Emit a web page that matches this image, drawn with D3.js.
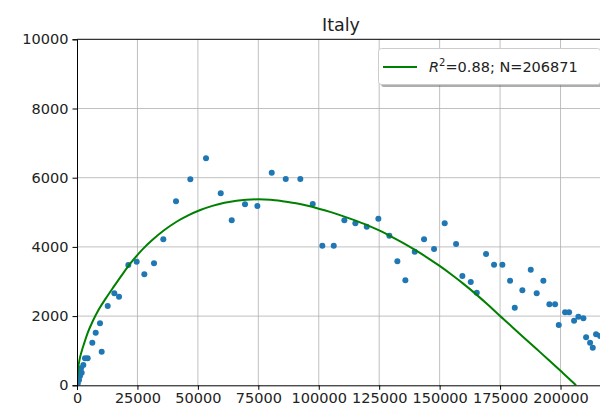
<!DOCTYPE html>
<html><head><meta charset="utf-8">
<script src="https://cdn.jsdelivr.net/npm/d3@7"></script>
<style>body{margin:0;background:#fff}svg{display:block}</style>
</head><body>
<svg id="c" width="600" height="406"></svg>
<script>
const title = "Italy";
const xTicks = [0,25000,50000,75000,100000,125000,150000,175000,200000];
const yTicks = [0,2000,4000,6000,8000,10000];
const scatterX = [290,830,1240,1650,1940,2620,3310,4420,6340,7740,9510,10210,12700,15440,17380,21230,24690,27850,31860,35700,40960,46880,53370,59450,64000,69500,74600,80550,86340,92380,97510,101480,106200,110590,115140,119850,124650,129200,132510,135820,139700,143550,147690,152100,156800,159400,162870,165360,169200,172500,175950,179130,181080,184220,187690,190150,192900,195390,197750,199280,201880,203540,205610,207390,209460,210580,212230,213340,214710,216370,120,500];
const scatterY = [58,153,269,491,364,587,780,780,1231,1520,1792,971,2292,2659,2561,3477,3573,3208,3526,4219,5318,5953,6560,5549,4768,5231,5182,6144,5962,5962,5240,4035,4035,4768,4681,4584,4815,4324,3583,3034,3862,4219,3939,4681,4084,3159,2985,2676,3795,3485,3485,3023,2243,2745,3341,2659,3023,2341,2341,1743,2110,2110,1867,1983,1936,1387,1231,1087,1474,1425,20,380];
const fitX = [0,300,1000,2000,3000,4500,6500,9000,12000,15000,19000,23000,27000,31000,36000,41000,46000,51000,56000,61000,66000,70000,75000,80000,85000,90000,95000,100000,105000,110000,115000,120000,125000,130000,135000,140000,145000,150000,155000,160000,165000,170000,175000,180000,185000,190000,195000,200000,205000,206400];
const fitY = [0,380,720,1000,1220,1530,1850,2190,2520,2830,3230,3600,3920,4190,4480,4720,4910,5065,5185,5275,5335,5362,5375,5362,5322,5270,5195,5105,5005,4890,4765,4630,4475,4300,4110,3905,3685,3450,3195,2925,2635,2325,2000,1685,1370,1055,740,420,95,0];
const legendLabel = {r2: "0.88", n: "206871"};

const svg = d3.select("#c");
const x = d3.scaleLinear().domain([0,218400]).range([77,605]);
const y = d3.scaleLinear().domain([0,10000]).range([385.3,39.3]);
const font = "DejaVu Sans, sans-serif";

// grid
svg.append("g").selectAll("line").data(xTicks.slice(1)).join("line")
  .attr("x1",d=>x(d)).attr("x2",d=>x(d)).attr("y1",y(0)).attr("y2",y(10000))
  .attr("stroke","#b0b0b0").attr("stroke-width",0.8);
svg.append("g").selectAll("line").data(yTicks.slice(1,-1)).join("line")
  .attr("y1",d=>y(d)).attr("y2",d=>y(d)).attr("x1",x(0)).attr("x2",605)
  .attr("stroke","#b0b0b0").attr("stroke-width",0.8);

// clip
svg.append("defs").append("clipPath").attr("id","clip").append("rect")
  .attr("x",77).attr("y",39.3).attr("width",528).attr("height",346);

const plot = svg.append("g").attr("clip-path","url(#clip)");
plot.append("g").selectAll("circle").data(scatterX.map((v,i)=>[v,scatterY[i]])).join("circle")
  .attr("cx",d=>x(d[0])).attr("cy",d=>y(d[1])).attr("r",3)
  .attr("fill","#1f77b4");
plot.append("path").datum(fitX.map((v,i)=>[v,fitY[i]]))
  .attr("d",d3.line().x(d=>x(d[0])).y(d=>y(d[1])).curve(d3.curveMonotoneX))
  .attr("fill","none").attr("stroke","#008000").attr("stroke-width",2);

// axes
const xAxis = d3.axisBottom(x).tickValues(xTicks).tickFormat(d3.format("d")).tickSize(4.5).tickPadding(3);
const yAxis = d3.axisLeft(y).tickValues(yTicks).tickFormat(d3.format("d")).tickSize(4.5).tickPadding(4);
const gx = svg.append("g").attr("transform",`translate(0,${y(0)})`).call(xAxis);
const gy = svg.append("g").attr("transform",`translate(${x(0)},0)`).call(yAxis);
[gx,gy].forEach(g=>{
  g.select(".domain").attr("stroke","#000").attr("stroke-width",1);
  g.selectAll(".tick line").attr("stroke","#000");
  g.selectAll("text").attr("font-family",font).attr("font-size",14.5).attr("fill","#222");
});
// top spine
svg.append("line").attr("x1",x(0)).attr("x2",605).attr("y1",y(10000)).attr("y2",y(10000)).attr("stroke","#000").attr("stroke-width",1);

// title
svg.append("text").attr("x",341).attr("y",31).attr("text-anchor","middle")
  .attr("font-family",font).attr("font-size",17.5).attr("fill","#222").text(title);

// legend
const lg = svg.append("g");
lg.append("rect").attr("x",381).attr("y",51).attr("width",222).attr("height",36).attr("rx",3)
  .attr("fill","#777").attr("opacity",0.6);
lg.append("rect").attr("x",378.5).attr("y",48.5).attr("width",222).attr("height",36).attr("rx",3)
  .attr("fill","#fff").attr("stroke","#ccc").attr("stroke-width",1);
lg.append("line").attr("x1",383).attr("x2",417).attr("y1",67).attr("y2",67)
  .attr("stroke","#008000").attr("stroke-width",2);
const t = lg.append("text").attr("x",429).attr("y",72).attr("font-family",font).attr("font-size",14.5).attr("fill","#222");
t.append("tspan").attr("font-style","italic").text("R");
t.append("tspan").attr("font-size",10).attr("dy",-6).text("2");
t.append("tspan").attr("dy",6).text("=" + legendLabel.r2 + "; N=" + legendLabel.n);
</script>
</body></html>
